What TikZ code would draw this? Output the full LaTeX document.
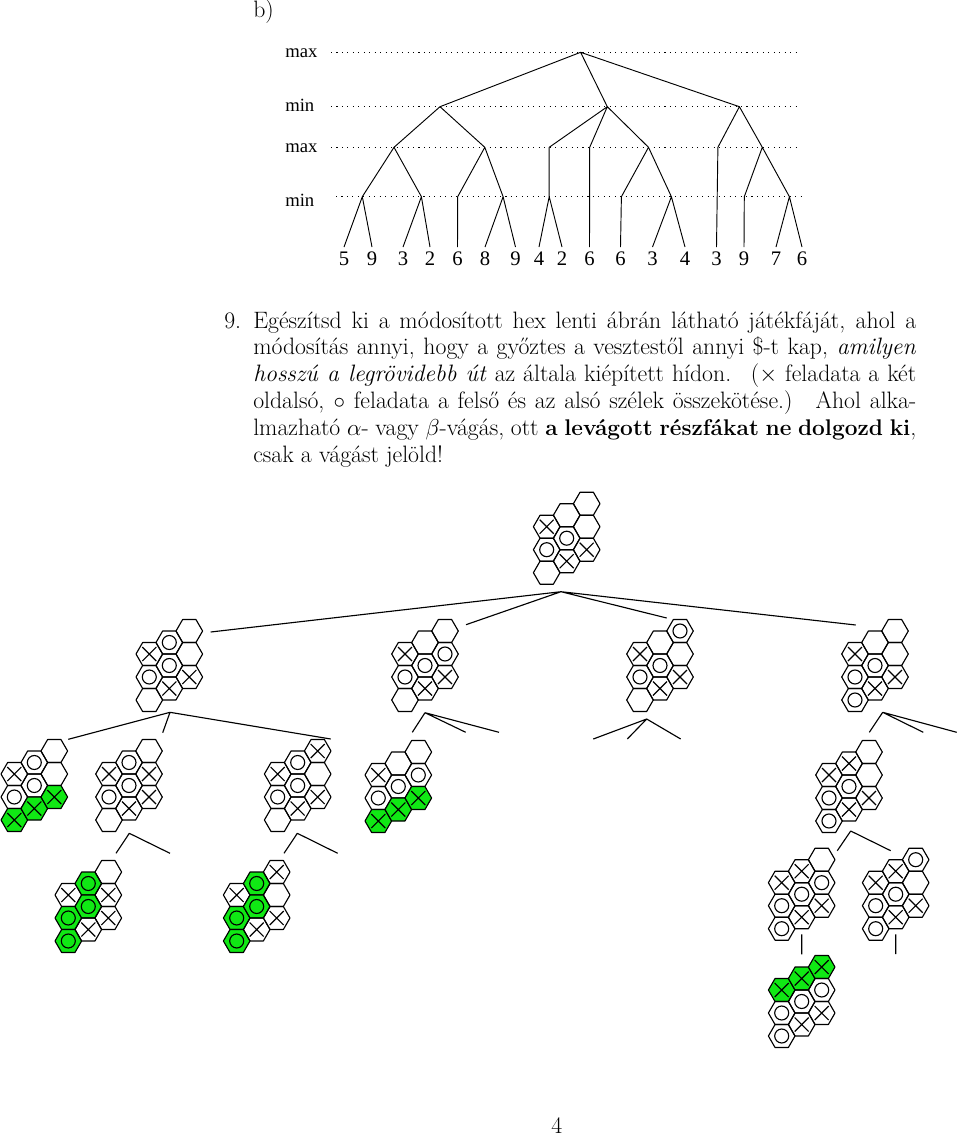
\documentclass[tikz,border=0pt]{standalone}
\usepackage{fontspec}
\newfontfamily\figfont{Liberation Serif}
\definecolor{hexgreen}{RGB}{16,232,20}
\tikzset{
  x=0.75pt,y=-0.75pt,
  hexline/.style={line width=0.85pt,line join=round},
  hexshape/.pic={\path[hexline,pic actions] (-13.3,0)--(-6.65,-11.5)--(6.65,-11.5)--(13.3,0)--(6.65,11.5)--(-6.65,11.5)--cycle;},
  markx/.pic={\draw[hexline] (-7,-7)--(7,7) (-7,7)--(7,-7);},
  marko/.pic={\draw[hexline] (0,0) circle[radius=7];},
  hexe/.pic={\pic[draw]{hexshape};},
  hexx/.pic={\pic[draw]{hexshape};\pic{markx};},
  hexo/.pic={\pic[draw]{hexshape};\pic{marko};},
  hexX/.pic={\pic[draw,fill=hexgreen]{hexshape};\pic{markx};},
  hexO/.pic={\pic[draw,fill=hexgreen]{hexshape};\pic{marko};},
  treeline/.style={line width=0.7pt},
  gameline/.style={line width=0.85pt},
  levelline/.style={line width=0.7pt,dash pattern=on 0.8pt off 3.3pt},
  treetext/.style={font=\figfont\fontsize{15.5}{18}\selectfont,anchor=base},
  leveltext/.style={font=\figfont\fontsize{14}{16}\selectfont,anchor=base west,inner sep=0pt},
  bodytext/.style={font=\fontsize{17.8}{20.2}\selectfont,anchor=base west,inner sep=0pt}
}
\newcommand\hexboard[4]{%
  \coordinate (#1) at (#2,#3);
  \foreach \st [count=\i from 0] in {#4} {
    \pgfmathtruncatemacro\cc{int(\i/3)}
    \pgfmathtruncatemacro\rr{mod(\i,3)}
    \pic at ({#2+20*\cc},{#3+23*\rr-11.5*\cc}) {hex\st};
  }%
}
\begin{document}
\begin{tikzpicture}
\useasboundingbox (0,0) rectangle (960,1136);
% heading
\node[bodytext] (hb) at (253,17) {b)};
% level lines
\node[leveltext] (l1) at (285,57) {max};
\node[leveltext] (l2) at (285,111) {min};
\node[leveltext] (l3) at (285,152) {max};
\node[leveltext] (l4) at (285,206) {min};
\coordinate (d1a) at (331,52.3); \coordinate (d1b) at (801,52.3);
\coordinate (d2a) at (331,106.7); \coordinate (d2b) at (800,106.7);
\coordinate (d3a) at (331,147.3); \coordinate (d3b) at (799,147.3);
\coordinate (d4a) at (336,196.7); \coordinate (d4b) at (801,196.7);
\draw[levelline] (d1a)--(d1b) (d2a)--(d2b) (d3a)--(d3b) (d4a)--(d4b);
% tree nodes
\coordinate (r) at (580.6,52.3);
\foreach \n/\x in {a/440,b/607.3,c/739.4}{\coordinate (\n) at (\x,106.7);}
\foreach \n/\x in {a1/394,a2/484.8,b1/549.2,b2/589.7,b3/648.5,c1/717.9,c2/762.3}{\coordinate (\n) at (\x,147.3);}
\foreach \n/\x in {p/362.3,q/421.4,s/457.7,t/503.1,u/549.2,v/621.4,w/671.4,y/744.3,z/789.4}{\coordinate (\n) at (\x,196.7);}
\foreach \n/\x/\d in {n1/344/5,n2/372/9,n3/403/3,n4/430/2,n5/457.5/6,n6/485/8,n7/515.5/9,n8/539/4,n9/562/2,n10/589.5/6,n11/620.5/6,n12/652.5/3,n13/685/4,n14/716.5/3,n15/744/9,n16/776/7,n17/802/6}{
  \coordinate (\n) at (\x,247);
  \node[treetext,inner sep=0pt] (t\n) at (\x,265) {\d};
}
\draw[treeline] (r)--(a) (r)--(b) (r)--(c)
  (a)--(a1) (a)--(a2) (b)--(b1) (b)--(b2) (b)--(b3) (c)--(c1) (c)--(c2)
  (a1)--(p) (a1)--(q) (a2)--(s) (a2)--(t) (b1)--(u) (b3)--(v) (b3)--(w) (c1)--(n14) (c2)--(y) (c2)--(z)
  (p)--(n1) (p)--(n2) (q)--(n3) (q)--(n4) (s)--(n5) (t)--(n6) (t)--(n7)
  (u)--(n8) (u)--(n9) (b2)--(n10) (v)--(n11) (w)--(n12) (w)--(n13) (y)--(n15) (z)--(n16) (z)--(n17);
% text
\node[bodytext] (num) at (224,328) {9.};
\node[bodytext,text width=497.25pt,align=justify] (para) at (253,328) {\hyphenpenalty=10000\tolerance=9999\hbadness=10000\hfuzz=8pt
Egészítsd ki a módosított hex lenti ábrán látható játékfáját, ahol a\linebreak
módosítás annyi, hogy a győztes a vesztestől annyi \$-t kap, \textit{amilyen}\linebreak
\textit{hosszú a legrövidebb út} az általa kiépített hídon. \ ($\times$ feladata a két\linebreak
oldalsó, $\circ$ feladata a felső és az alsó szélek összekötése.) \ Ahol alka-\linebreak
\makebox[\linewidth][s]{\spaceskip=0.27em plus 1em lmazható $\alpha$- vagy $\beta$-vágás, ott {\fontsize{17}{20.2}\selectfont\bfseries a levágott részfákat ne dolgozd ki},}\linebreak
csak a vágást jelöld!};
\node[bodytext] (page) at (551,1133) {4};
% boards
\hexboard{B0}{546.7}{526.7}{x,o,e,e,o,x,e,e,x}
\hexboard{A1}{149.3}{654}{x,o,e,o,o,x,e,e,x}
\hexboard{A2}{405}{654}{x,o,e,e,o,x,e,o,x}
\hexboard{A3}{640}{654}{x,o,e,e,o,x,o,e,x}
\hexboard{A4}{855}{654}{x,o,o,e,o,x,e,e,x}
\hexboard{B1}{14.3}{774}{x,o,X,o,o,X,e,e,X}
\hexboard{B2}{109}{774}{x,o,e,o,o,x,e,x,x}
\hexboard{B3}{277.7}{774}{x,o,e,o,o,x,x,e,x}
\hexboard{B4}{378.3}{775}{x,o,X,e,o,X,e,o,X}
\hexboard{B5}{829}{775}{x,o,o,x,o,x,e,e,x}
\hexboard{C0}{68.3}{895}{x,O,O,O,O,x,e,x,x}
\hexboard{C1}{236.7}{895}{x,O,O,O,O,x,x,e,x}
\hexboard{C2}{781.7}{882.7}{x,o,o,x,o,x,e,o,x}
\hexboard{C3}{875.7}{882.7}{x,o,o,x,o,x,o,e,x}
\hexboard{D1}{781.7}{990}{X,o,o,X,o,x,X,o,x}
% connector joints and free ends
\foreach \n/\x/\y in {
 R0/561/591.7, E1/210.7/632, E2/466/624.7, E3/666.7/618, E4/855.7/625,
 R1/170/712.3, F1/68.3/739.3, F2/162.7/732.7, F3/330.7/739,
 R2/425/712.7, G1/412.3/732.3, G2/465.7/732.3, G3/499/732.3,
 R3/646.7/719, H1/593.3/739, H2/627.3/739, H3/680.7/739,
 R4/882.7/712.3, J1/869.3/732.3, J2/923.3/732.3, J3/956.7/732.3,
 R5/129.3/833.3, K1/116/853.3, K2/170/853.3,
 R6/297.3/833.3, L1/284/853.3, L2/337.7/853.3,
 R7/850.7/831, M1/837.3/850.7, M2/890.7/850.7,
 N1/801.7/934.3, N2/801.7/954.3, O1/895.7/934.3, O2/895.7/954}{
 \coordinate (\n) at (\x,\y);
}
\draw[gameline] (R0)--(E1) (R0)--(E2) (R0)--(E3) (R0)--(E4)
 (R1)--(F1) (R1)--(F2) (R1)--(F3)
 (R2)--(G1) (R2)--(G2) (R2)--(G3)
 (R3)--(H1) (R3)--(H2) (R3)--(H3)
 (R4)--(J1) (R4)--(J2) (R4)--(J3)
 (R5)--(K1) (R5)--(K2)
 (R6)--(L1) (R6)--(L2)
 (R7)--(M1) (R7)--(M2)
 (N1)--(N2) (O1)--(O2);
\end{tikzpicture}
\end{document}
